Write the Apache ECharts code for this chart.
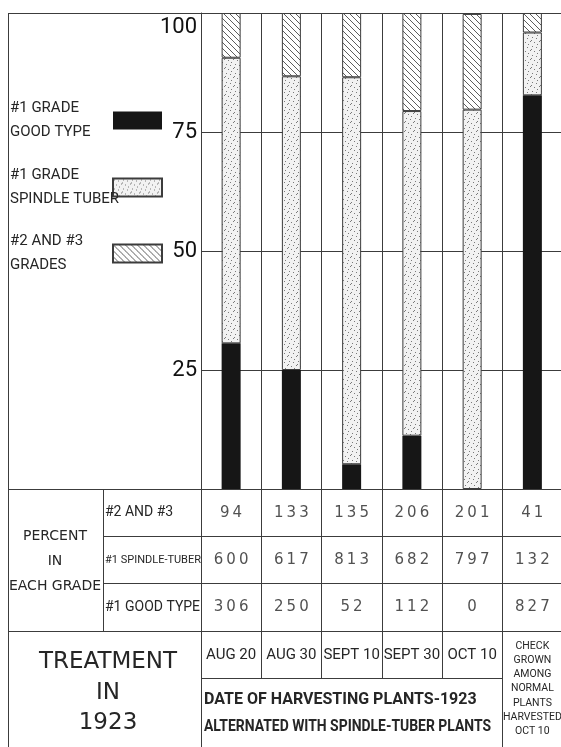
<!DOCTYPE html>
<html>
<head>
<meta charset="utf-8">
<script src="https://cdn.jsdelivr.net/npm/echarts@6/dist/echarts.min.js"></script>
<style>
  html, body { margin: 0; padding: 0; background: #fff; }
  #chart { width: 561px; height: 747px; }
</style>
</head>
<body>
<div id="chart"></div>
<script>
// data (percent in each grade)
const harvestDates = ['AUG 20', 'AUG 30', 'SEPT 10', 'SEPT 30', 'OCT 10'];
const checkNote = ['CHECK', 'GROWN', 'AMONG', 'NORMAL', 'PLANTS', 'HARVESTED', 'OCT 10'];
const gradeNames = ['#1 GRADE\nGOOD TYPE', '#1 GRADE\nSPINDLE TUBER', '#2 AND #3\nGRADES'];
const rowLabels = ['#2 AND #3', '#1 SPINDLE-TUBER', '#1 GOOD TYPE'];
const goodType = [30.6, 25.0, 5.2, 11.2, 0, 82.7];
const spindleTuber = [60.0, 61.7, 81.3, 68.2, 79.7, 13.2];
const gradesTwoThree = [9.4, 13.3, 13.5, 20.6, 20.1, 4.1];
const yTicks = [0, 25, 50, 75, 100];

const categories = harvestDates.concat([checkNote.join('\n')]);
const tableRows = [gradesTwoThree, spindleTuber, goodType];

const LINE = '#3c3c3c';
const INK = '#262626';
const HAND = "'DejaVu Sans', sans-serif";
const NARROW = "Roboto, 'Liberation Sans', sans-serif";

// layout
const PAGE_LEFT = 8, CHART_TOP = 13, COL_LEFT = 201, COL_W = 60.25;
const ZERO_Y = 489, TABLE_BOTTOM = 631, DATE_BOTTOM = 678, LABEL_COL = 103, PAGE_BOTTOM = 747;
const CHECK_LEFT = COL_LEFT + COL_W * 5;

function hatch() {
  const c = document.createElement('canvas');
  c.width = 6; c.height = 6;
  const g = c.getContext('2d');
  g.fillStyle = '#fff';
  g.fillRect(0, 0, 6, 6);
  g.strokeStyle = '#333';
  g.lineWidth = 0.8;
  g.beginPath();
  g.moveTo(-1, -1); g.lineTo(7, 7);
  g.moveTo(-1, 5); g.lineTo(1, 7);
  g.moveTo(5, -1); g.lineTo(7, 1);
  g.stroke();
  return c;
}

function stipple() {
  const c = document.createElement('canvas');
  c.width = 9; c.height = 9;
  const g = c.getContext('2d');
  g.fillStyle = '#f2f2f2';
  g.fillRect(0, 0, 9, 9);
  g.fillStyle = '#7a7a7a';
  [[1, 1], [5, 2], [8, 5], [3, 6], [6, 8], [0, 4]].forEach(p => g.fillRect(p[0], p[1], 1, 1));
  return c;
}

const fills = [
  '#161616',
  { image: stipple(), repeat: 'repeat' },
  { image: hatch(), repeat: 'repeat' }
];
const barData = [goodType, spindleTuber, gradesTwoThree];

const fmt = v => String(Math.round(v * 10)).split('').join('\u2009');

const chart = echarts.init(document.getElementById('chart'));

const hline = (x1, x2, y) => ({
  type: 'line', silent: true,
  shape: { x1: x1, y1: y + 0.5, x2: x2, y2: y + 0.5 },
  style: { stroke: LINE, lineWidth: 1 }
});
const vline = (x, y1, y2) => ({
  type: 'line', silent: true,
  shape: { x1: x + 0.5, y1: y1, x2: x + 0.5, y2: y2 },
  style: { stroke: LINE, lineWidth: 1 }
});
const label = (text, x, y, font, lh, align, sx) => ({
  type: 'text', silent: true,
  x: x, y: y, scaleX: sx || 1,
  style: {
    text: text, x: 0, y: 0, font: font, lineHeight: lh, fill: INK,
    align: align || 'center', verticalAlign: 'middle'
  }
});

const option = {
  animation: false,
  backgroundColor: '#fff',
  legend: [101, 168, 234].map((top, i) => ({
    data: [gradeNames[i]],
    left: 10,
    top: top,
    padding: 0,
    orient: 'vertical',
    align: 'right',
    icon: 'rect',
    itemWidth: 49,
    itemHeight: 18,
    selectedMode: false,
    formatter: name => name.split('\n').map(s => '{a|' + s + '}').join('\n'),
    textStyle: {
      color: INK,
      rich: { a: { width: 98, align: 'left', fontSize: 15, lineHeight: 24, color: INK, fontFamily: NARROW } }
    }
  })),
  grid: [
    { left: COL_LEFT, top: CHART_TOP, width: COL_W * 6, height: ZERO_Y - CHART_TOP,
      containLabel: false, outerBoundsMode: 'none' },
    { left: COL_LEFT, top: ZERO_Y, width: COL_W * 6, height: TABLE_BOTTOM - ZERO_Y,
      containLabel: false, outerBoundsMode: 'none' }
  ],
  xAxis: [
    {
      gridIndex: 0, type: 'category', data: categories,
      axisLine: { lineStyle: { color: LINE, width: 1 } },
      axisTick: { show: false },
      axisLabel: { show: false },
      splitLine: { show: true, interval: 0, lineStyle: { color: LINE, width: 1 } }
    },
    {
      gridIndex: 1, type: 'category', position: 'bottom',
      data: categories.map((c, i) => i < harvestDates.length ? c :
        { value: c, textStyle: { fontSize: 10.5, lineHeight: 14.2, fontFamily: NARROW } }),
      axisLine: { lineStyle: { color: LINE, width: 1 } },
      axisTick: { show: true, interval: 0, length: DATE_BOTTOM - TABLE_BOTTOM, lineStyle: { color: LINE, width: 1 } },
      axisLabel: {
        interval: 0, margin: 8, fontSize: 15, lineHeight: 32, color: INK,
        fontFamily: NARROW, verticalAlign: 'top', hideOverlap: false
      },
      splitLine: { show: true, interval: 0, lineStyle: { color: LINE, width: 1 } }
    }
  ],
  yAxis: [
    {
      gridIndex: 0, type: 'value', min: yTicks[0], max: yTicks[yTicks.length - 1], interval: 25,
      axisLine: { show: true, lineStyle: { color: LINE, width: 1 } },
      axisTick: { show: false },
      splitLine: { show: true, lineStyle: { color: LINE, width: 1 } },
      axisLabel: {
        margin: 4, fontSize: 22, color: '#111', fontFamily: NARROW,
        formatter: v => v === 0 ? '' : (v === 100 ? '{top|100}' : String(v)),
        rich: { top: { fontSize: 22, color: '#111', fontFamily: NARROW, padding: [28, 0, 0, 0] } }
      }
    },
    {
      gridIndex: 1, type: 'category', inverse: true,
      data: rowLabels.map((r, i) => i === 1 ?
        { value: r, textStyle: { fontSize: 11, align: 'left', fontFamily: NARROW, color: INK } } : r),
      axisLine: { show: true, lineStyle: { color: LINE, width: 1 } },
      axisTick: { show: true, interval: 0, length: COL_LEFT - LABEL_COL, lineStyle: { color: LINE, width: 1 } },
      splitLine: { show: true, interval: 0, lineStyle: { color: LINE, width: 1 } },
      axisLabel: { interval: 0, margin: 96, align: 'left', fontSize: 14, color: INK, fontFamily: NARROW }
    }
  ],
  series: barData.map((d, i) => ({
    name: gradeNames[i],
    type: 'bar',
    stack: 'grade',
    xAxisIndex: 0, yAxisIndex: 0,
    barWidth: 19,
    data: d,
    itemStyle: { color: fills[i], borderColor: LINE, borderWidth: i === 0 ? 0 : 1 }
  })).concat(tableRows.map((vals, r) => ({
    type: 'scatter',
    xAxisIndex: 1, yAxisIndex: 1,
    symbolSize: 0,
    silent: true,
    data: vals.map((v, i) => [i, r, v]),
    label: {
      show: true, position: 'inside', fontSize: 15, color: INK, fontFamily: HAND,
      formatter: p => fmt(p.value[2])
    }
  }))),
  graphic: [
    hline(PAGE_LEFT, 561, CHART_TOP),
    vline(PAGE_LEFT, CHART_TOP, PAGE_BOTTOM),
    hline(PAGE_LEFT, 561, ZERO_Y),
    hline(PAGE_LEFT, 561, TABLE_BOTTOM),
    vline(LABEL_COL, ZERO_Y, TABLE_BOTTOM),
    hline(COL_LEFT, CHECK_LEFT, DATE_BOTTOM),
    vline(COL_LEFT, TABLE_BOTTOM, PAGE_BOTTOM),
    vline(Math.round(CHECK_LEFT), TABLE_BOTTOM, PAGE_BOTTOM),
    label('PERCENT\nIN\nEACH GRADE', 55, 561, '14px ' + HAND, 25),
    label('TREATMENT\nIN\n1923', 108, 693, '23px ' + HAND, 30.5),
    label('DATE OF HARVESTING PLANTS-1923', 204, 700, 'bold 16px ' + NARROW, 20, 'left', 1),
    label('ALTERNATED WITH SPINDLE-TUBER PLANTS', 204, 727, 'bold 16px ' + NARROW, 20, 'left', 0.87)
  ]
};

chart.setOption(option);
window.addEventListener('resize', () => chart.resize());
</script>
</body>
</html>
